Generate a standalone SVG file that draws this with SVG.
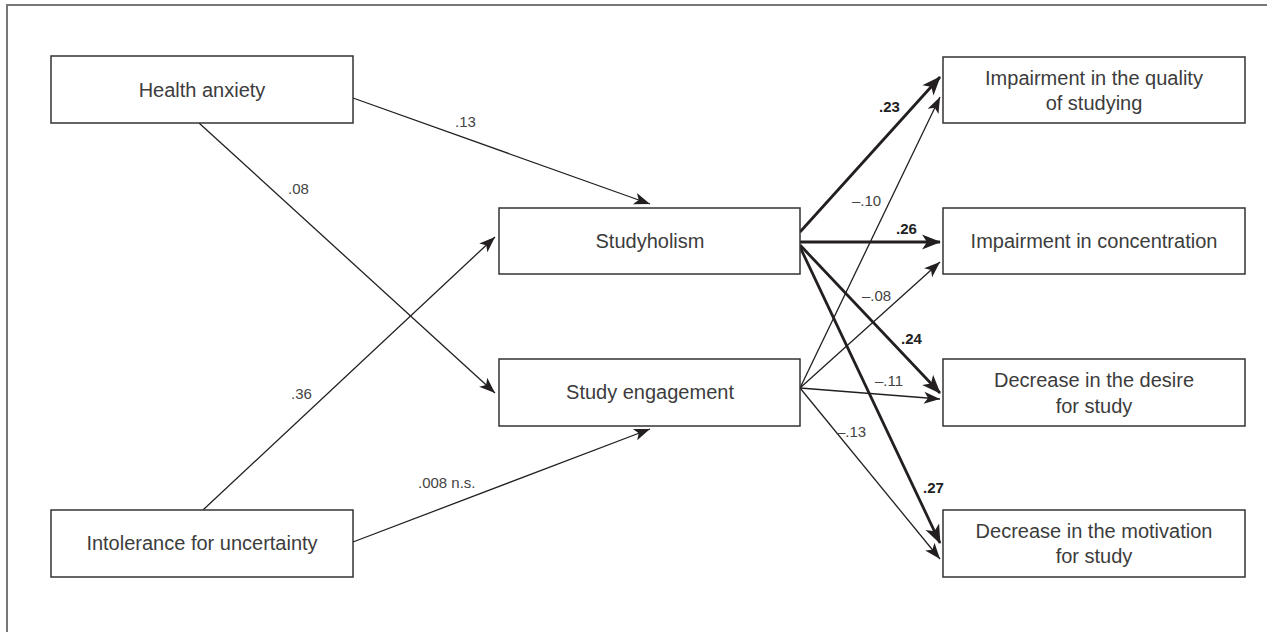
<svg xmlns="http://www.w3.org/2000/svg" width="1267" height="632" viewBox="0 0 1267 632">
<style>
.box{fill:#fff;stroke:#333;stroke-width:1.5}
.nt{font-family:"Liberation Sans",Arial,sans-serif;font-size:20px;fill:#3c3c3c;text-anchor:middle}
.lb{font-family:"Liberation Sans",Arial,sans-serif;font-size:15px;fill:#444}
.lbb{font-family:"Liberation Sans",Arial,sans-serif;font-size:15px;font-weight:bold;fill:#222}
.thin{stroke:#231f20;stroke-width:1.3;fill:none;marker-end:url(#ah)}
.thick{stroke:#231f20;stroke-width:2.8;fill:none;marker-end:url(#ahb)}
</style>
<defs>
<marker id="ah" markerUnits="userSpaceOnUse" markerWidth="20" markerHeight="20" refX="0" refY="0" orient="auto" overflow="visible">
<path d="M0,0 L-16,-6 L-12,0 L-16,6 Z" fill="#231f20"/>
</marker>
<marker id="ahb" markerUnits="userSpaceOnUse" markerWidth="24" markerHeight="24" refX="0" refY="0" orient="auto" overflow="visible">
<path d="M1,0 L-18,-7.5 L-13,0 L-18,7.5 Z" fill="#231f20"/>
</marker>
</defs>
<rect width="1267" height="632" fill="#fff"/>
<g id="frame" stroke="#777" stroke-width="2" fill="none">
<path d="M7,632 L7,5 L1267,5"/>
</g>
<g id="connectors">
<line class="thin" x1="353" y1="98" x2="650" y2="204"/>
<line class="thin" x1="199" y1="123" x2="495" y2="393"/>
<line class="thin" x1="203" y1="510" x2="495" y2="237"/>
<line class="thin" x1="353" y1="542" x2="650" y2="429"/>
<line class="thick" x1="800" y1="232" x2="940" y2="77"/>
<line class="thick" x1="800" y1="242" x2="940" y2="242"/>
<line class="thick" x1="800" y1="245" x2="940" y2="393"/>
<line class="thick" x1="800" y1="247" x2="940" y2="543"/>
<line class="thin" x1="800" y1="388" x2="940" y2="97"/>
<line class="thin" x1="800" y1="388" x2="940" y2="262"/>
<line class="thin" x1="800" y1="388" x2="940" y2="399"/>
<line class="thin" x1="800" y1="388" x2="940" y2="559"/>
<text class="lb" x="455" y="127">.13</text>
<text class="lb" x="288" y="194">.08</text>
<text class="lb" x="291" y="399">.36</text>
<text class="lb" x="418" y="488">.008 n.s.</text>
<text class="lbb" x="879" y="112">.23</text>
<text class="lb" x="852" y="206">–.10</text>
<text class="lbb" x="896" y="234">.26</text>
<text class="lb" x="862" y="301">–.08</text>
<text class="lbb" x="901" y="344">.24</text>
<text class="lb" x="875" y="386">–.11</text>
<text class="lb" x="837" y="437">–.13</text>
<text class="lbb" x="923" y="493">.27</text>
</g>
<g id="health-anxiety">
<rect class="box" x="51" y="56" width="302" height="67"/>
<text class="nt" x="202" y="97">Health anxiety</text>
</g>
<g id="intolerance">
<rect class="box" x="51" y="510" width="302" height="67"/>
<text class="nt" x="202" y="550">Intolerance for uncertainty</text>
</g>
<g id="studyholism">
<rect class="box" x="499" y="208" width="301" height="66"/>
<text class="nt" x="650" y="248">Studyholism</text>
</g>
<g id="study-engagement">
<rect class="box" x="499" y="359" width="301" height="67"/>
<text class="nt" x="650" y="399">Study engagement</text>
</g>
<g id="impairment-quality">
<rect class="box" x="943" y="57" width="302" height="66"/>
<text class="nt" x="1094" y="85">Impairment in the quality</text>
<text class="nt" x="1094" y="110">of studying</text>
</g>
<g id="impairment-concentration">
<rect class="box" x="943" y="208" width="302" height="66"/>
<text class="nt" x="1094" y="248">Impairment in concentration</text>
</g>
<g id="decrease-desire">
<rect class="box" x="943" y="359" width="302" height="67"/>
<text class="nt" x="1094" y="387">Decrease in the desire</text>
<text class="nt" x="1094" y="413">for study</text>
</g>
<g id="decrease-motivation">
<rect class="box" x="943" y="510" width="302" height="67"/>
<text class="nt" x="1094" y="538">Decrease in the motivation</text>
<text class="nt" x="1094" y="563">for study</text>
</g>
</svg>
